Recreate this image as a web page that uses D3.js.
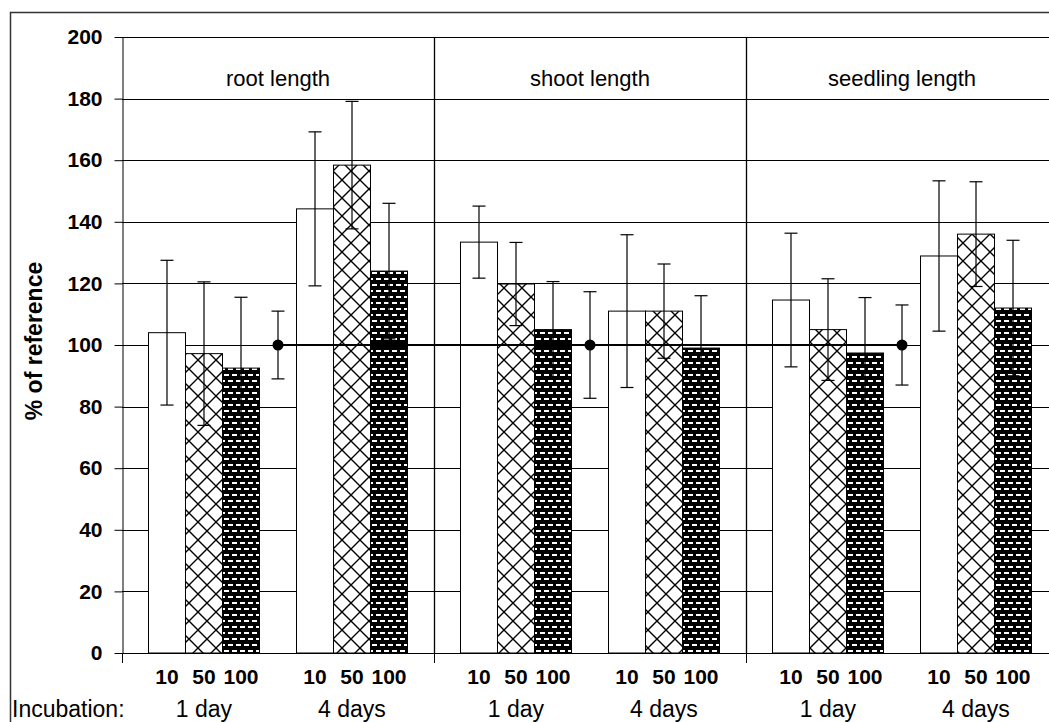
<!DOCTYPE html>
<html>
<head>
<meta charset="utf-8">
<script src="https://cdn.jsdelivr.net/npm/d3@7"></script>
<style>
  body { margin: 0; background: #fff; }
  svg { display: block; font-family: "Liberation Sans", Arial, sans-serif; }
</style>
</head>
<body>
<div id="chart"></div>
<script>
// values (% of reference)
const sections = ['root length', 'shoot length', 'seedling length'];
const concentrations = ['10', '50', '100'];
const incubations = ['1 day', '4 days'];

const day1Means = [[104, 97.2, 92.5], [133.4, 119.8, 105], [114.6, 105, 97.4]];
const day1Err = [[23.5, 23.3, 23], [11.7, 13.5, 15.6], [21.7, 16.5, 18]];
const day4Means = [[144.2, 158.4, 124], [111, 111, 99], [128.9, 136, 112]];
const day4Err = [[25, 20.7, 22], [24.8, 15.3, 17], [24.4, 17, 22]];
const refMeans = [100, 100, 100];
const refErr = [11, 17.3, 13];

const yTicks = [0, 20, 40, 60, 80, 100, 120, 140, 160, 180, 200];

const W = 1049, H = 722;
const plotLeft = 122, plotTop = 37, plotBottom = 653, sectionW = 312;

const svg = d3.select('#chart').append('svg')
    .attr('width', W)
    .attr('height', H);

const defs = svg.append('defs');
const cross = defs.append('pattern')
    .attr('id', 'cross')
    .attr('patternUnits', 'userSpaceOnUse')
    .attr('width', 18).attr('height', 18);
cross.append('rect').attr('width', 18).attr('height', 18).attr('fill', '#fff');
cross.append('path')
    .attr('d', 'M-2,-2L20,20M20,-2L-2,20')
    .attr('stroke', '#000').attr('stroke-width', 1.4);

const dash = defs.append('pattern')
    .attr('id', 'dash')
    .attr('patternUnits', 'userSpaceOnUse')
    .attr('width', 8).attr('height', 12);
dash.append('rect').attr('width', 8).attr('height', 12).attr('fill', '#000');
dash.append('rect').attr('x', 0).attr('y', 2).attr('width', 5).attr('height', 2).attr('fill', '#fff');
dash.append('rect').attr('x', 4).attr('y', 8).attr('width', 5).attr('height', 2).attr('fill', '#fff');
dash.append('rect').attr('x', -4).attr('y', 8).attr('width', 5).attr('height', 2).attr('fill', '#fff');
const fills = ['#fff', 'url(#cross)', 'url(#dash)'];

// outer frame (cropped at right/bottom like the reference)
svg.append('path')
    .attr('d', `M10.5,${H + 2}V12.5H${W + 2}`)
    .attr('fill', 'none').attr('stroke', '#333').attr('stroke-width', 1.5);

const x = d3.scaleBand().domain(sections).range([plotLeft, plotLeft + sections.length * sectionW]);
const slots = ['d1-10', 'd1-50', 'd1-100', 'ref', 'd4-10', 'd4-50', 'd4-100'];
const slot = d3.scaleBand().domain(slots).range([0, sectionW]).paddingOuter(0.716);
const y = d3.scaleLinear().domain([0, 200]).range([plotBottom, plotTop]);
const xEnd = plotLeft + sections.length * sectionW;

const g = svg.append('g');

// gridlines
g.selectAll('.grid')
    .data(yTicks)
    .enter().append('line')
    .attr('x1', plotLeft).attr('x2', xEnd)
    .attr('y1', d => Math.round(y(d)) + 0.5).attr('y2', d => Math.round(y(d)) + 0.5)
    .attr('stroke', '#000').attr('stroke-width', 1);

// bars
const bars = [];
sections.forEach((s, i) => {
    concentrations.forEach((c, j) => {
        bars.push({ s, key: 'd1-' + c, j, v: day1Means[i][j], e: day1Err[i][j] });
        bars.push({ s, key: 'd4-' + c, j, v: day4Means[i][j], e: day4Err[i][j] });
    });
});
const bx = d => x(d.s) + slot(d.key);

g.selectAll('.bar')
    .data(bars)
    .enter().append('rect')
    .attr('x', d => bx(d))
    .attr('y', d => y(d.v))
    .attr('width', slot.bandwidth())
    .attr('height', d => y(0) - y(d.v))
    .attr('fill', d => fills[d.j])
    .attr('stroke', '#000').attr('stroke-width', 1);

// error bars
const refs = sections.map((s, i) => ({ s, key: 'ref', v: refMeans[i], e: refErr[i] }));
const errs = bars.concat(refs);
const cap = 6.5;
const eb = g.selectAll('.err').data(errs).enter().append('g')
    .attr('stroke', '#000').attr('stroke-width', 1.2);
const cx = d => bx(d) + slot.bandwidth() / 2;
eb.append('line')
    .attr('x1', cx).attr('x2', cx)
    .attr('y1', d => y(d.v + d.e)).attr('y2', d => y(d.v - d.e));
eb.append('line')
    .attr('x1', d => cx(d) - cap).attr('x2', d => cx(d) + cap)
    .attr('y1', d => y(d.v + d.e)).attr('y2', d => y(d.v + d.e));
eb.append('line')
    .attr('x1', d => cx(d) - cap).attr('x2', d => cx(d) + cap)
    .attr('y1', d => y(d.v - d.e)).attr('y2', d => y(d.v - d.e));

// reference line and points
g.append('path')
    .datum(refs)
    .attr('d', d3.line().x(cx).y(d => y(d.v)))
    .attr('fill', 'none').attr('stroke', '#000').attr('stroke-width', 2.2);
g.selectAll('.dot')
    .data(refs)
    .enter().append('circle')
    .attr('cx', cx).attr('cy', d => y(d.v)).attr('r', 5.5)
    .attr('fill', '#000');

// section separators
g.selectAll('.sep')
    .data(sections.slice(1))
    .enter().append('line')
    .attr('x1', d => Math.round(x(d)) + 0.5).attr('x2', d => Math.round(x(d)) + 0.5)
    .attr('y1', plotTop).attr('y2', plotBottom)
    .attr('stroke', '#000').attr('stroke-width', 1.3);

// y axis
const yAxis = g.append('g')
    .attr('transform', `translate(${plotLeft + 0.5},0)`)
    .call(d3.axisLeft(y).tickValues(yTicks).tickSize(8).tickPadding(12).tickSizeOuter(0));
yAxis.select('.domain').attr('stroke', '#000');
yAxis.selectAll('text')
    .attr('font-size', 21).attr('font-weight', 'bold')
    .attr('font-family', '"Liberation Sans", Arial, sans-serif')
    .attr('fill', '#000');

// x axis line and category ticks
g.append('line')
    .attr('x1', plotLeft).attr('x2', xEnd)
    .attr('y1', plotBottom + 0.5).attr('y2', plotBottom + 0.5)
    .attr('stroke', '#000');
g.selectAll('.xt')
    .data(sections.map(s => x(s)).concat([xEnd]))
    .enter().append('line')
    .attr('x1', d => Math.round(d) + 0.5).attr('x2', d => Math.round(d) + 0.5)
    .attr('y1', plotBottom).attr('y2', plotBottom + 10)
    .attr('stroke', '#000');

// section titles
g.selectAll('.title')
    .data(sections)
    .enter().append('text')
    .attr('x', d => x(d) + sectionW / 2)
    .attr('y', 86)
    .attr('text-anchor', 'middle')
    .attr('font-size', 22)
    .text(d => d);

// concentration labels
g.selectAll('.conc')
    .data(bars)
    .enter().append('text')
    .attr('x', cx)
    .attr('y', 684)
    .attr('text-anchor', 'middle')
    .attr('font-size', 21).attr('font-weight', 'bold')
    .text(d => concentrations[d.j]);

// incubation labels
const incLabels = [];
sections.forEach(s => {
    incubations.forEach((inc, k) => {
        const pre = k === 0 ? 'd1-' : 'd4-';
        const a = x(s) + slot(pre + '10');
        const b = x(s) + slot(pre + '100') + slot.bandwidth();
        incLabels.push({ x: (a + b) / 2, text: inc });
    });
});
g.selectAll('.inc')
    .data(incLabels)
    .enter().append('text')
    .attr('x', d => d.x)
    .attr('y', 717)
    .attr('text-anchor', 'middle')
    .attr('font-size', 23)
    .text(d => d.text);
g.append('text')
    .attr('x', 12).attr('y', 717)
    .attr('font-size', 23)
    .text('Incubation:');

// y title
g.append('text')
    .attr('transform', 'translate(42,341) rotate(-90)')
    .attr('text-anchor', 'middle')
    .attr('font-size', 23).attr('font-weight', 'bold')
    .text('% of reference');
</script>
</body>
</html>
